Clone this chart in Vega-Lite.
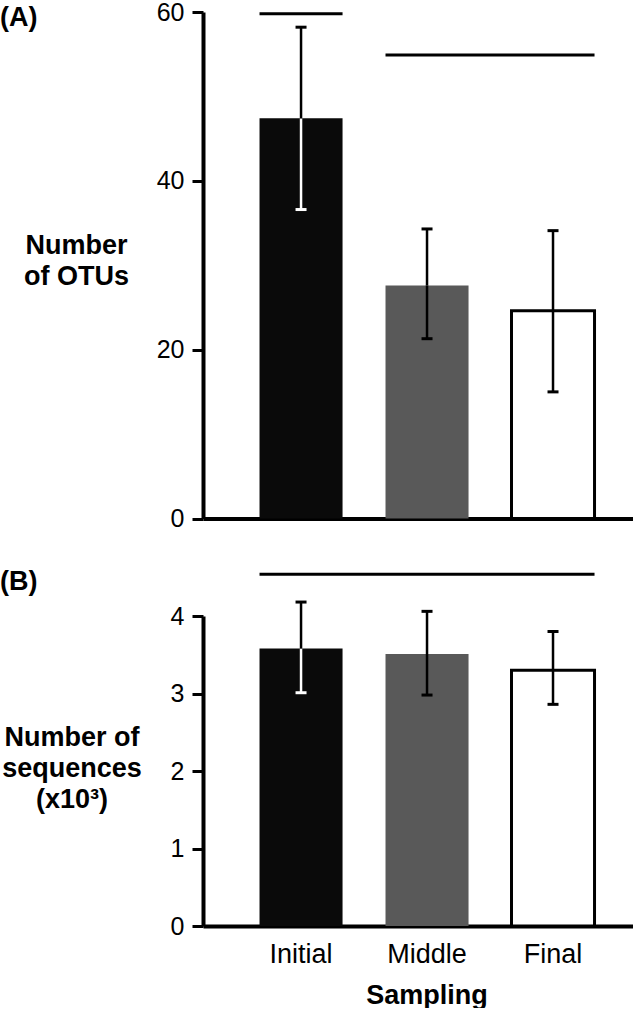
{
  "$schema": "https://vega.github.io/schema/vega-lite/v6.json",
  "padding": 0,
  "bounds": "flush",
  "spacing": 97,
  "config": {
    "font": "Liberation Sans",
    "view": {"stroke": null},
    "axis": {
      "domainColor": "black", "domainWidth": 4, "tickColor": "black", "tickWidth": 3, "tickSize": 11,
      "labelFont": "Liberation Sans", "labelFontSize": 25, "labelColor": "black", "labelPadding": 8,
      "titleFont": "Liberation Sans", "titleFontSize": 27, "titleFontWeight": "bold", "titleColor": "black",
      "grid": false
    },
    "title": {"font": "Liberation Sans", "fontSize": 27, "fontWeight": "bold", "color": "black", "anchor": "start", "frame": "group"}
  },
  "datasets": {
    "otus": [
      {"sampling": "Initial", "mean": 47.4, "lo": 36.6, "hi": 58.2},
      {"sampling": "Middle", "mean": 27.6, "lo": 21.3, "hi": 34.3},
      {"sampling": "Final", "mean": 24.6, "lo": 15.0, "hi": 34.1}
    ],
    "otusSig": [
      {"from": "Initial", "to": "Initial", "y": 59.8},
      {"from": "Middle", "to": "Final", "y": 54.9}
    ],
    "seqs": [
      {"sampling": "Initial", "mean": 3.58, "lo": 3.01, "hi": 4.18},
      {"sampling": "Middle", "mean": 3.51, "lo": 2.98, "hi": 4.06},
      {"sampling": "Final", "mean": 3.30, "lo": 2.86, "hi": 3.80}
    ],
    "seqsSig": [
      {"from": "Initial", "to": "Final", "y": 4.54}
    ]
  },
  "vconcat": [
    {
      "width": 430,
      "height": 506.5,
      "title": {"text": "(A)", "dx": -203, "dy": 35.5},
      "layer": [
        {
          "data": {"name": "otus"},
          "mark": {"type": "bar", "strokeWidth": 3},
          "encoding": {
            "x": {"field": "sampling", "type": "nominal",
                  "scale": {"domain": ["Initial", "Middle", "Final"], "paddingInner": 0.341, "paddingOuter": 0.377, "align": 0.595},
                  "axis": {"labels": false, "ticks": false, "title": null}},
            "y": {"field": "mean", "type": "quantitative",
                  "scale": {"domain": [0, 60], "nice": false},
                  "axis": {"values": [0, 20, 40, 60], "format": "d", "title": ["Number", "of OTUs"], "titleAngle": 0, "titleAlign": "center",
                           "titleBaseline": "alphabetic", "titleX": -127, "titleY": 241, "titleLineHeight": 31}},
            "color": {"field": "sampling", "type": "nominal",
                      "scale": {"domain": ["Initial", "Middle", "Final"], "range": ["#0a0a0a", "#595959", "#ffffff"]},
                      "legend": null},
            "stroke": {"condition": {"test": "datum.sampling === 'Final'", "value": "black"}, "value": "transparent"}
          }
        },
        {
          "data": {"name": "otus"},
          "mark": {"type": "rule", "strokeWidth": 2.5},
          "encoding": {
            "x": {"field": "sampling", "type": "nominal"},
            "y": {"field": "lo", "type": "quantitative"},
            "y2": {"field": "mean"},
            "color": {"condition": {"test": "datum.sampling === 'Initial'", "value": "white"}, "value": "black"}
          }
        },
        {
          "data": {"name": "otus"},
          "mark": {"type": "rule", "strokeWidth": 2.5, "color": "black"},
          "encoding": {
            "x": {"field": "sampling", "type": "nominal"},
            "y": {"field": "mean", "type": "quantitative"},
            "y2": {"field": "hi"}
          }
        },
        {
          "data": {"name": "otus"},
          "mark": {"type": "tick", "orient": "horizontal", "size": 11, "thickness": 3, "opacity": 1},
          "encoding": {
            "x": {"field": "sampling", "type": "nominal"},
            "y": {"field": "lo", "type": "quantitative"},
            "color": {"condition": {"test": "datum.sampling === 'Initial'", "value": "white"}, "value": "black"}
          }
        },
        {
          "data": {"name": "otus"},
          "mark": {"type": "tick", "orient": "horizontal", "size": 11, "thickness": 3, "opacity": 1, "color": "black"},
          "encoding": {
            "x": {"field": "sampling", "type": "nominal"},
            "y": {"field": "hi", "type": "quantitative"}
          }
        },
        {
          "data": {"name": "otusSig"},
          "mark": {"type": "rule", "strokeWidth": 3, "color": "black", "clip": false},
          "encoding": {
            "x": {"field": "from", "type": "nominal", "bandPosition": 0},
            "x2": {"field": "to", "bandPosition": 1},
            "y": {"field": "y", "type": "quantitative"}
          }
        }
      ]
    },
    {
      "width": 430,
      "height": 310,
      "title": {"text": "(B)", "dx": -203, "dy": 27},
      "layer": [
        {
          "data": {"name": "seqs"},
          "mark": {"type": "bar", "strokeWidth": 3},
          "encoding": {
            "x": {"field": "sampling", "type": "nominal",
                  "scale": {"domain": ["Initial", "Middle", "Final"], "paddingInner": 0.341, "paddingOuter": 0.377, "align": 0.595},
                  "axis": {"ticks": false, "labelPadding": 15, "labelFontSize": 27, "labelAngle": 0,
                           "title": "Sampling", "titleX": 223.5, "titleY": 77, "titleBaseline": "alphabetic", "titleAlign": "center"}},
            "y": {"field": "mean", "type": "quantitative",
                  "scale": {"domain": [0, 4], "nice": false},
                  "axis": {"values": [0, 1, 2, 3, 4], "format": "d", "title": ["Number of", "sequences", "(x10³)"], "titleAngle": 0, "titleAlign": "center",
                           "titleBaseline": "alphabetic", "titleX": -131.5, "titleY": 129.5, "titleLineHeight": 31}},
            "color": {"field": "sampling", "type": "nominal",
                      "scale": {"domain": ["Initial", "Middle", "Final"], "range": ["#0a0a0a", "#595959", "#ffffff"]},
                      "legend": null},
            "stroke": {"condition": {"test": "datum.sampling === 'Final'", "value": "black"}, "value": "transparent"}
          }
        },
        {
          "data": {"name": "seqs"},
          "mark": {"type": "rule", "strokeWidth": 2.5},
          "encoding": {
            "x": {"field": "sampling", "type": "nominal"},
            "y": {"field": "lo", "type": "quantitative"},
            "y2": {"field": "mean"},
            "color": {"condition": {"test": "datum.sampling === 'Initial'", "value": "white"}, "value": "black"}
          }
        },
        {
          "data": {"name": "seqs"},
          "mark": {"type": "rule", "strokeWidth": 2.5, "color": "black"},
          "encoding": {
            "x": {"field": "sampling", "type": "nominal"},
            "y": {"field": "mean", "type": "quantitative"},
            "y2": {"field": "hi"}
          }
        },
        {
          "data": {"name": "seqs"},
          "mark": {"type": "tick", "orient": "horizontal", "size": 11, "thickness": 3, "opacity": 1},
          "encoding": {
            "x": {"field": "sampling", "type": "nominal"},
            "y": {"field": "lo", "type": "quantitative"},
            "color": {"condition": {"test": "datum.sampling === 'Initial'", "value": "white"}, "value": "black"}
          }
        },
        {
          "data": {"name": "seqs"},
          "mark": {"type": "tick", "orient": "horizontal", "size": 11, "thickness": 3, "opacity": 1, "color": "black"},
          "encoding": {
            "x": {"field": "sampling", "type": "nominal"},
            "y": {"field": "hi", "type": "quantitative"}
          }
        },
        {
          "data": {"name": "seqsSig"},
          "mark": {"type": "rule", "strokeWidth": 3, "color": "black", "clip": false},
          "encoding": {
            "x": {"field": "from", "type": "nominal", "bandPosition": 0},
            "x2": {"field": "to", "bandPosition": 1},
            "y": {"field": "y", "type": "quantitative"}
          }
        }
      ]
    }
  ]
}
